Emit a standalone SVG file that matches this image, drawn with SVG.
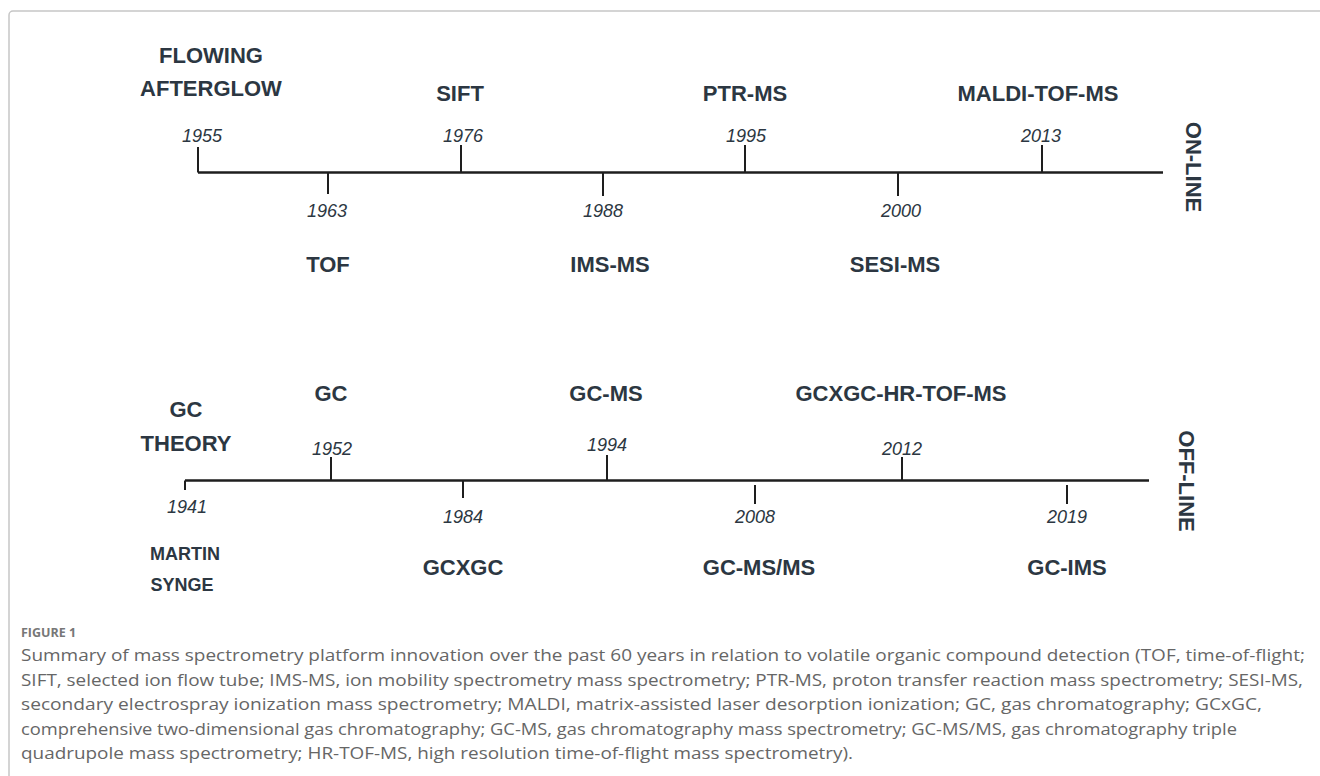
<svg xmlns="http://www.w3.org/2000/svg" width="1320" height="776" viewBox="0 0 1320 776">
<style>
.lbl{font-family:"Liberation Sans",Arial,sans-serif;font-weight:bold;font-size:22px;fill:#2c3742;text-anchor:middle}
.sm{font-size:18px}
.yr{font-family:"Liberation Sans",Arial,sans-serif;font-style:italic;font-size:18px;fill:#2c3742;text-anchor:middle}
.axis{stroke:#1e1e1e;stroke-width:2.6;fill:none}
.tick{stroke:#1e1e1e;stroke-width:2;fill:none}
.cap{font-family:"Open Sans","Liberation Sans",sans-serif;font-size:15.5px;fill:#666}
.fig{font-family:"Open Sans","Liberation Sans",sans-serif;font-size:12.5px;font-weight:bold;fill:#777}
</style>
<rect x="9" y="11" width="1330" height="790" rx="4" fill="#fff" stroke="#c6c6c6" stroke-width="1.5"/>
<g id="connectors">
<path class="axis" d="M198 172.5H1163"/>
<path class="tick" d="M198 147V172.5M461 145V172.5M745 145V172.5M1042 145V172.5M328 172.5V194M603 172.5V196M898 172.5V196"/>
<path class="axis" d="M185 480.5H1149"/>
<path class="tick" d="M185 480.5V490M331 457V480.5M607 455V480.5M902 457V480.5M463 480.5V498M755 485V504M1067 485V504"/>
</g>
<g id="online-label"><text class="lbl" transform="translate(1186 167) rotate(90)">ON-LINE</text></g>
<g id="offline-label"><text class="lbl" transform="translate(1179 481) rotate(90)">OFF-LINE</text></g>
<g id="n1955"><text class="lbl" x="211" y="63">FLOWING</text><text class="lbl" x="211" y="96">AFTERGLOW</text><text class="yr" x="202" y="142">1955</text></g>
<g id="n1963"><text class="yr" x="327" y="217">1963</text><text class="lbl" x="328" y="272">TOF</text></g>
<g id="n1976"><text class="lbl" x="460" y="101">SIFT</text><text class="yr" x="463" y="142">1976</text></g>
<g id="n1988"><text class="yr" x="603" y="217">1988</text><text class="lbl" x="610" y="272">IMS-MS</text></g>
<g id="n1995"><text class="lbl" x="745" y="101">PTR-MS</text><text class="yr" x="746" y="142">1995</text></g>
<g id="n2000"><text class="yr" x="901" y="217">2000</text><text class="lbl" x="895" y="272">SESI-MS</text></g>
<g id="n2013"><text class="lbl" x="1038" y="101">MALDI-TOF-MS</text><text class="yr" x="1041" y="142">2013</text></g>
<g id="n1941"><text class="lbl" x="186" y="417">GC</text><text class="lbl" x="186" y="451">THEORY</text><text class="yr" x="187" y="513">1941</text><text class="lbl sm" x="185" y="560">MARTIN</text><text class="lbl sm" x="182" y="591">SYNGE</text></g>
<g id="n1952"><text class="lbl" x="331" y="401">GC</text><text class="yr" x="332" y="455">1952</text></g>
<g id="n1984"><text class="yr" x="463" y="523">1984</text><text class="lbl" x="463" y="575">GCXGC</text></g>
<g id="n1994"><text class="lbl" x="606" y="401">GC-MS</text><text class="yr" x="607" y="451">1994</text></g>
<g id="n2008"><text class="yr" x="755" y="523">2008</text><text class="lbl" x="759" y="575">GC-MS/MS</text></g>
<g id="n2012"><text class="lbl" x="901" y="401">GCXGC-HR-TOF-MS</text><text class="yr" x="902" y="455">2012</text></g>
<g id="n2019"><text class="yr" x="1067" y="523">2019</text><text class="lbl" x="1067" y="575">GC-IMS</text></g>
<g id="caption">
<text class="fig" x="21" y="637">FIGURE 1</text>
<text class="cap" x="21" y="661" textLength="1284" lengthAdjust="spacingAndGlyphs">Summary of mass spectrometry platform innovation over the past 60 years in relation to volatile organic compound detection (TOF, time-of-flight;</text>
<text class="cap" x="21" y="686" textLength="1282" lengthAdjust="spacingAndGlyphs">SIFT, selected ion flow tube; IMS-MS, ion mobility spectrometry mass spectrometry; PTR-MS, proton transfer reaction mass spectrometry; SESI-MS,</text>
<text class="cap" x="21" y="710" textLength="1241" lengthAdjust="spacingAndGlyphs">secondary electrospray ionization mass spectrometry; MALDI, matrix-assisted laser desorption ionization; GC, gas chromatography; GCxGC,</text>
<text class="cap" x="21" y="735" textLength="1216" lengthAdjust="spacingAndGlyphs">comprehensive two-dimensional gas chromatography; GC-MS, gas chromatography mass spectrometry; GC-MS/MS, gas chromatography triple</text>
<text class="cap" x="21" y="759" textLength="832" lengthAdjust="spacingAndGlyphs">quadrupole mass spectrometry; HR-TOF-MS, high resolution time-of-flight mass spectrometry).</text>
</g>
</svg>
